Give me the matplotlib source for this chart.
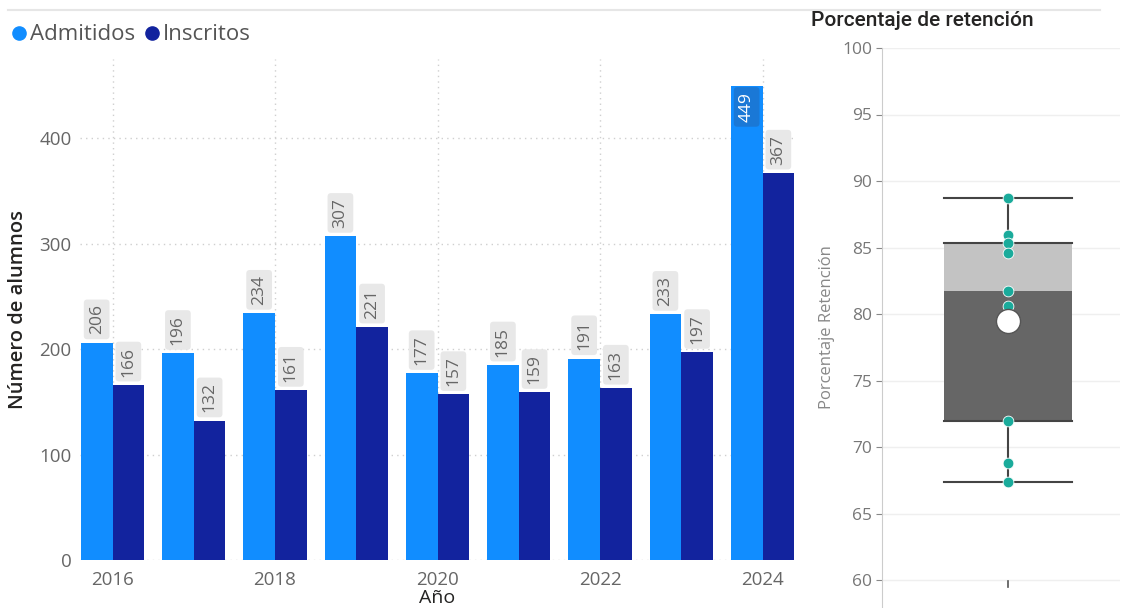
import matplotlib
matplotlib.use("Agg")
import matplotlib.pyplot as plt
import numpy as np
from matplotlib.lines import Line2D

years = [2016, 2017, 2018, 2019, 2020, 2021, 2022, 2023, 2024]
admitidos = [206, 196, 234, 307, 177, 185, 191, 233, 449]
inscritos = [166, 132, 161, 221, 157, 159, 163, 197, 367]
year_ticks = [2016, 2018, 2020, 2022, 2024]
count_ticks = [0, 100, 200, 300, 400]
pct_ticks = [60, 65, 70, 75, 80, 85, 90, 95, 100]

plt.rcParams['font.family'] = ['Open Sans', 'DejaVu Sans']

C_ADM = '#118DFF'
C_INS = '#12239E'
C_TXT = '#666666'

W, H = 1125, 608
fig = plt.figure(figsize=(W / 100, H / 100), dpi=100)
fig.patch.set_facecolor('white')


def rect(l, t, r, b):
    return [l / W, (H - b) / H, (r - l) / W, (b - t) / H]


# separator line across the top of the page
fig.add_artist(Line2D([8 / W, 1100 / W], [1 - 10 / H, 1 - 10 / H],
                      color='#e6e6e6', lw=1.5, transform=fig.transFigure))

# ---------------- bar chart ----------------
ax = fig.add_axes(rect(80, 59, 795, 560))
x = np.array(years, dtype=float)
bw = 0.39
ax.bar(x - bw / 2, admitidos, width=bw, color=C_ADM, zorder=3)
ax.bar(x + bw / 2, inscritos, width=bw, color=C_INS, zorder=3)
ax.set_xlim(2015.6, 2024.4)
ax.set_ylim(0, 475)
ax.set_yticks(count_ticks)
ax.set_xticks(year_ticks)
ax.tick_params(length=0, labelsize=13.5, labelcolor=C_TXT, pad=6)
ax.tick_params(axis='x', pad=8)
for s in ax.spines.values():
    s.set_visible(False)
ax.grid(True, axis='both', linestyle=(0, (1, 3)), color='#cfcfcf', lw=1, zorder=0)
ax.set_ylabel('Número de alumnos', fontsize=14.5, color='#252423', labelpad=8,
              fontweight='semibold')

ymax = ax.get_ylim()[1]
for xs, vals in ((x - bw / 2, admitidos), (x + bw / 2, inscritos)):
    for xi, v in zip(xs, vals):
        if v > 0.85 * ymax:
            ax.annotate(str(v), xy=(xi, v), xytext=(0, -4), textcoords='offset points',
                        rotation=90, ha='center', va='top', fontsize=12.5, color='white',
                        bbox=dict(boxstyle='round,pad=0.28,rounding_size=0.2',
                                  fc='#1a78d6', ec='none'), zorder=5)
        else:
            ax.annotate(str(v), xy=(xi, v), xytext=(0, 6), textcoords='offset points',
                        rotation=90, ha='center', va='bottom', fontsize=12.5, color=C_TXT,
                        bbox=dict(boxstyle='round,pad=0.28,rounding_size=0.2',
                                  fc='#e8e8e8', ec='none'), zorder=5)

fig.text(437 / W, 1 - 607 / H, 'Año', ha='center', va='bottom', fontsize=14, color='#252423')

# legend
for mx, tx, label, c in ((19, 30, 'Admitidos', C_ADM), (152, 163, 'Inscritos', C_INS)):
    fig.add_artist(Line2D([mx / W], [1 - 33 / H], marker='o', ms=9.5, color=c,
                          transform=fig.transFigure))
    fig.text(tx / W, 1 - 35 / H, label, ha='left', va='center', fontsize=16, color='#555555')

# ---------------- retention box plot ----------------
ret = np.array(inscritos) / np.array(admitidos) * 100
q1, med, q3 = np.percentile(ret, [25, 50, 75], method='nearest')
lo, hi = ret.min(), ret.max()
mean = ret.mean()

bx = fig.add_axes(rect(882, 48, 1120, 606.6))
bx.set_xlim(-1.059, 0.941)
bx.set_ylim(58, 100)
hw = 0.534
bx.fill_between([-hw, hw], q1, med, color='#666666', zorder=2, lw=0)
bx.fill_between([-hw, hw], med, q3, color='#c3c3c3', zorder=2, lw=0)
for yv in (q1, q3, lo, hi):
    bx.plot([-hw, hw], [yv, yv], color='#444444', lw=1.5, zorder=3)
bx.plot([0, 0], [lo, q1], color='#444444', lw=1.5, zorder=3)
bx.plot([0, 0], [q3, hi], color='#444444', lw=1.5, zorder=3)
bx.scatter(np.zeros_like(ret), ret, s=60, color='#1aab9b', edgecolors='white',
           linewidths=0.6, zorder=4)
bx.scatter([0], [mean], s=300, color='white', edgecolors='#555555', linewidths=1, zorder=5)
# category tick under the box
bx.plot([0, 0], [59.95, 59.45], color='#555555', lw=1.2, zorder=3)

bx.set_yticks(pct_ticks)
bx.set_xticks([])
bx.tick_params(axis='y', length=4, color='#888888', labelsize=12.5, labelcolor='#777777', pad=3)
for k in ('top', 'right', 'bottom'):
    bx.spines[k].set_visible(False)
bx.spines['left'].set_color('#cccccc')
bx.grid(True, axis='y', color='#efefef', lw=1, zorder=0)
bx.set_axisbelow(True)
bx.set_ylabel('Porcentaje Retención', fontsize=12, color='#888888', labelpad=5)

fig.text(811 / W, 1 - 21 / H, 'Porcentaje de retención', ha='left', va='center',
         fontsize=15, color='#252423', family=['Roboto', 'DejaVu Sans'], fontweight='medium')

fig.savefig('out.png', dpi=100, facecolor='white')
